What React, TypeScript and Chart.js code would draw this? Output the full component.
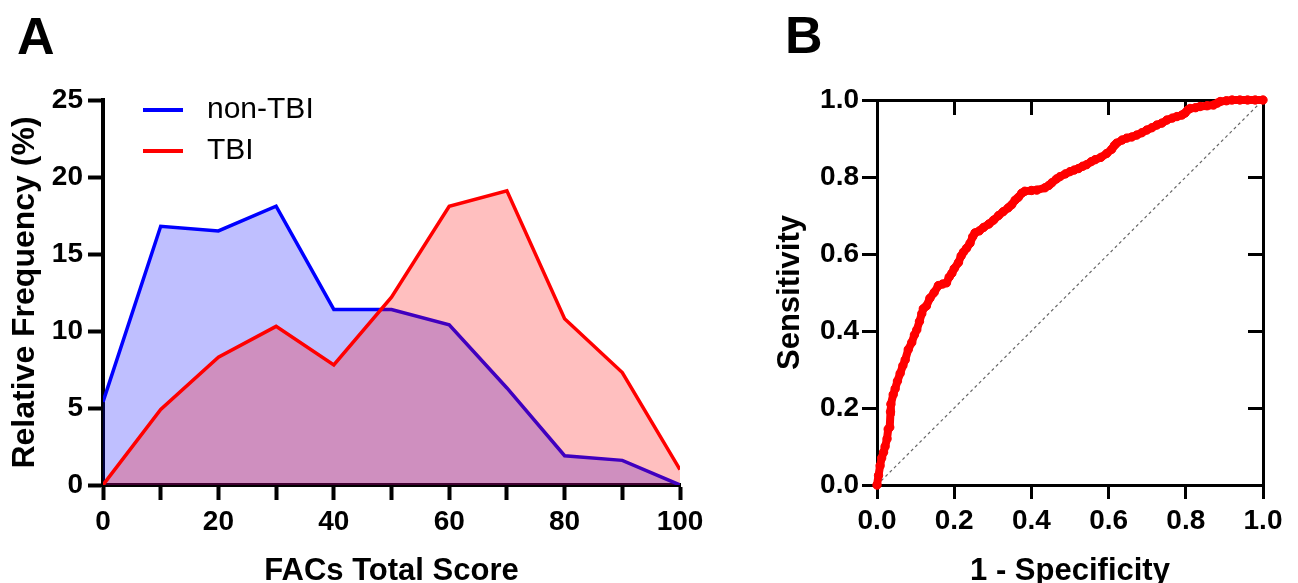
import React, { useEffect, useRef } from 'react';
import { Chart, registerables } from 'chart.js';

Chart.register(...registerables);

const FONT = '"Liberation Sans", Arial, Helvetica, sans-serif';

// ---- Panel A data ----
const facsScores = [0, 10, 20, 30, 40, 50, 60, 70, 80, 90, 100];
const nonTbiFreq = [5.4, 16.8, 16.5, 18.1, 11.4, 11.4, 10.4, 6.3, 1.9, 1.6, 0];
const tbiFreq = [0, 4.9, 8.3, 10.3, 7.8, 12.2, 18.1, 19.1, 10.8, 7.3, 1.0];
const seriesNames = ['non-TBI', 'TBI'];
const xTitleA = 'FACs Total Score';
const yTitleA = 'Relative Frequency (%)';

// ---- Panel B data ----
const rocFpr = [
  0, 0.004, 0.008, 0.012, 0.017, 0.021, 0.026, 0.029, 0.033, 0.035,
  0.036, 0.042, 0.047, 0.053, 0.06, 0.067, 0.073, 0.081, 0.09, 0.097,
  0.103, 0.11, 0.116, 0.12, 0.128, 0.137, 0.148, 0.159, 0.17, 0.18,
  0.187, 0.194, 0.2, 0.211, 0.218, 0.224, 0.232, 0.241, 0.248, 0.254,
  0.265, 0.276, 0.29, 0.302, 0.315, 0.327, 0.34, 0.349, 0.358, 0.366,
  0.375, 0.383, 0.4, 0.414, 0.435, 0.445, 0.453, 0.465, 0.474, 0.488,
  0.5, 0.511, 0.522, 0.533, 0.543, 0.555, 0.565, 0.58, 0.595, 0.608,
  0.615, 0.621, 0.635, 0.647, 0.66, 0.673, 0.686, 0.699, 0.712, 0.725,
  0.738, 0.751, 0.765, 0.777, 0.79, 0.798, 0.805, 0.811, 0.825, 0.837,
  0.855, 0.872, 0.882, 0.889, 0.905, 0.92, 0.94, 0.96, 0.98, 1.0,
];
const rocTpr = [
  0, 0.025, 0.05, 0.07, 0.085, 0.1, 0.12, 0.145, 0.15, 0.19,
  0.21, 0.235, 0.25, 0.27, 0.29, 0.31, 0.325, 0.352, 0.37, 0.39,
  0.403, 0.425, 0.445, 0.458, 0.465, 0.485, 0.5, 0.518, 0.522, 0.525,
  0.54, 0.55, 0.562, 0.578, 0.595, 0.605, 0.615, 0.628, 0.645, 0.655,
  0.66, 0.669, 0.678, 0.688, 0.7, 0.71, 0.72, 0.728, 0.74, 0.747,
  0.758, 0.763, 0.765, 0.766, 0.772, 0.778, 0.785, 0.795, 0.801, 0.808,
  0.814, 0.818, 0.822, 0.828, 0.832, 0.84, 0.845, 0.851, 0.861, 0.872,
  0.882, 0.888, 0.896, 0.901, 0.904, 0.909, 0.915, 0.922, 0.928, 0.935,
  0.94, 0.948, 0.953, 0.957, 0.961, 0.966, 0.974, 0.978, 0.98, 0.983,
  0.985, 0.987, 0.992, 0.996, 0.998, 1.0, 1.0, 1.0, 1.0, 1.0,
];
const chanceLine = [0, 1];
const xTitleB = '1 - Specificity';
const yTitleB = 'Sensitivity';

const panelLabel = (text: string, x: number, y: number) => ({
  id: 'panel' + text,
  afterDraw(chart: any) {
    const ctx = chart.ctx;
    ctx.save();
    ctx.font = `bold 52px ${FONT}`;
    ctx.fillStyle = '#000';
    ctx.textBaseline = 'alphabetic';
    ctx.textAlign = 'left';
    ctx.fillText(text, x, y);
    ctx.restore();
  },
});

const legendA = {
  id: 'legendA',
  afterDraw(chart: any) {
    const { ctx, chartArea } = chart;
    const ds = chart.data.datasets;
    const x0 = chartArea.left + 40;
    const rows = [chartArea.top + 10, chartArea.top + 51];
    ctx.save();
    ds.forEach((d: any, i: number) => {
      const y = rows[i];
      ctx.strokeStyle = d.borderColor;
      ctx.lineWidth = 4;
      ctx.beginPath();
      ctx.moveTo(x0, y);
      ctx.lineTo(x0 + 40, y);
      ctx.stroke();
      ctx.fillStyle = '#000';
      ctx.font = `30px ${FONT}`;
      ctx.textBaseline = 'middle';
      ctx.textAlign = 'left';
      ctx.fillText(d.label, x0 + 64, y);
    });
    ctx.restore();
  },
};

const tickFont = { family: FONT, size: 28, weight: 'bold' as const };
const titleFont = { family: FONT, size: 31, weight: 'bold' as const };
const yTitleFontA = { family: FONT, size: 32, weight: 'bold' as const };

export default function App() {
  const refA = useRef<HTMLCanvasElement>(null);
  const refB = useRef<HTMLCanvasElement>(null);

  useEffect(() => {
    const chartA = new Chart(refA.current as HTMLCanvasElement, {
      type: 'line',
      data: {
        datasets: [
          {
            label: seriesNames[0],
            data: facsScores.map((x, i) => ({ x, y: nonTbiFreq[i] })),
            borderColor: '#0000ff',
            backgroundColor: 'rgba(0,0,255,0.25)',
            fill: 'origin',
            borderWidth: 3.5,
            pointRadius: 0,
            tension: 0,
            order: 1,
          },
          {
            label: seriesNames[1],
            data: facsScores.map((x, i) => ({ x, y: tbiFreq[i] })),
            borderColor: '#ff0000',
            backgroundColor: 'rgba(255,0,0,0.25)',
            fill: 'origin',
            borderWidth: 3.5,
            pointRadius: 0,
            tension: 0,
            order: 0,
          },
        ],
      },
      options: {
        responsive: false,
        animation: false,
        devicePixelRatio: 1,
        layout: { padding: { left: 0, top: 100, right: 40, bottom: 0 } },
        plugins: { legend: { display: false }, tooltip: { enabled: false } },
        scales: {
          x: {
            type: 'linear',
            min: 0,
            max: 100,
            afterFit: (s: any) => { s.height = 98; },
            ticks: {
              stepSize: 10,
              autoSkip: false,
              maxRotation: 0,
              callback: (v: any) => (Number(v) % 20 === 0 ? String(v) : ''),
              font: tickFont,
              color: '#000',
              padding: 5,
            },
            grid: { display: true, drawOnChartArea: false, drawTicks: true, tickLength: 15, tickWidth: 4, tickColor: '#000' },
            border: { display: true, width: 4, color: '#000' },
            title: { display: true, text: xTitleA, font: titleFont, color: '#000', padding: { top: 0, bottom: -7 } },
          },
          y: {
            type: 'linear',
            min: 0,
            max: 25,
            afterFit: (s: any) => { s.width = 103; },
            ticks: { stepSize: 5, font: tickFont, color: '#000', padding: 5 },
            grid: { display: true, drawOnChartArea: false, drawTicks: true, tickLength: 15, tickWidth: 4, tickColor: '#000' },
            border: { display: true, width: 4, color: '#000' },
            title: { display: true, text: yTitleA, font: yTitleFontA, color: '#000', padding: { top: 6, bottom: 0 } },
          },
        },
      },
      plugins: [legendA, panelLabel('A', 17, 54)],
    });

    const chartB = new Chart(refB.current as HTMLCanvasElement, {
      type: 'line',
      data: {
        datasets: [
          {
            label: 'ROC',
            data: rocFpr.map((x, i) => ({ x, y: rocTpr[i] })),
            borderColor: '#ff0000',
            backgroundColor: '#ff0000',
            borderWidth: 8,
            pointRadius: 4.2,
            pointBackgroundColor: '#ff0000',
            pointBorderColor: '#ff0000',
            pointBorderWidth: 1,
            fill: false,
            tension: 0,
            clip: false as any,
            xAxisID: 'x',
            yAxisID: 'y',
            order: 0,
          },
          {
            label: 'Chance',
            data: chanceLine.map((v) => ({ x: v, y: v })),
            borderColor: '#666666',
            borderWidth: 1.2,
            borderDash: [3, 3],
            pointRadius: 0,
            fill: false,
            xAxisID: 'x',
            yAxisID: 'y',
            order: 1,
          },
        ],
      },
      options: {
        responsive: false,
        animation: false,
        devicePixelRatio: 1,
        layout: { padding: { left: 0, top: 100, right: 35, bottom: 0 } },
        plugins: { legend: { display: false }, tooltip: { enabled: false } },
        scales: {
          x: {
            type: 'linear',
            position: 'bottom',
            min: 0,
            max: 1,
            afterFit: (s: any) => { s.height = 98; },
            ticks: {
              stepSize: 0.2,
              autoSkip: false,
              maxRotation: 0,
              callback: (v: any) => Number(v).toFixed(1),
              font: tickFont,
              color: '#000',
              padding: 5,
            },
            grid: { display: true, drawOnChartArea: false, drawTicks: true, tickLength: 14, tickWidth: 3, tickColor: '#000' },
            border: { display: true, width: 3, color: '#000' },
            title: { display: true, text: xTitleB, font: titleFont, color: '#000', padding: { top: 0, bottom: -7 } },
          },
          x2: {
            type: 'linear',
            position: 'top',
            min: 0,
            max: 1,
            afterFit: (s: any) => { s.height = 0; },
            ticks: { display: false, stepSize: 0.2 },
            grid: { display: true, drawOnChartArea: false, drawTicks: true, tickLength: -15, tickWidth: 3, tickColor: '#000' },
            border: { display: true, width: 3, color: '#000' },
          },
          y: {
            type: 'linear',
            position: 'left',
            min: 0,
            max: 1,
            afterFit: (s: any) => { s.width = 157; },
            ticks: { stepSize: 0.2, callback: (v: any) => Number(v).toFixed(1), font: tickFont, color: '#000', padding: 3 },
            grid: { display: true, drawOnChartArea: false, drawTicks: true, tickLength: 15, tickWidth: 3, tickColor: '#000' },
            border: { display: true, width: 3, color: '#000' },
            title: { display: true, text: yTitleB, font: titleFont, color: '#000', padding: { top: 52, bottom: 0 } },
          },
          y2: {
            type: 'linear',
            position: 'right',
            min: 0,
            max: 1,
            afterFit: (s: any) => { s.width = 0; },
            ticks: { display: false, stepSize: 0.2 },
            grid: { display: true, drawOnChartArea: false, drawTicks: true, tickLength: -15, tickWidth: 3, tickColor: '#000' },
            border: { display: true, width: 3, color: '#000' },
          },
        },
      },
      plugins: [panelLabel('B', 65, 53)],
    });

    return () => {
      chartA.destroy();
      chartB.destroy();
    };
  }, []);

  return (
    <div style={{ position: 'absolute', left: 0, top: 0, width: 1298, height: 583, overflow: 'hidden', background: '#fff' }}>
      <canvas ref={refA} width={720} height={583} style={{ position: 'absolute', left: 0, top: 0, display: 'block' }} />
      <canvas ref={refB} width={578} height={583} style={{ position: 'absolute', left: 720, top: 0, display: 'block' }} />
    </div>
  );
}
